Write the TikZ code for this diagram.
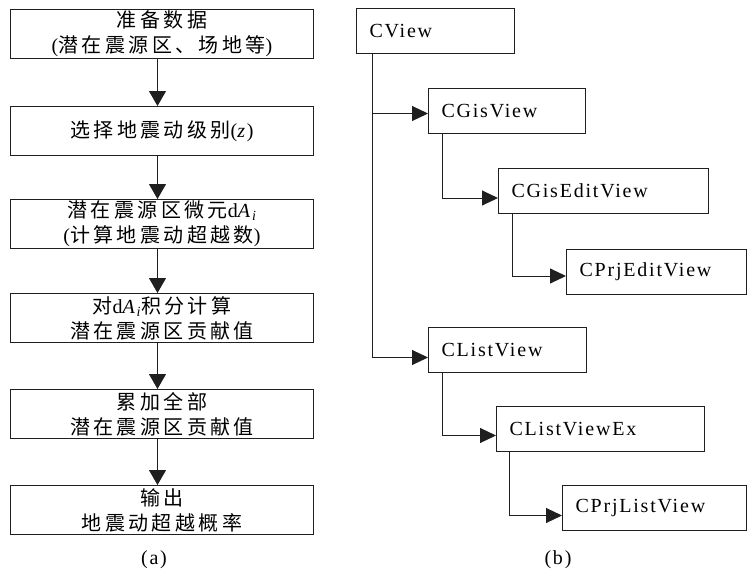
\documentclass[tikz,border=0pt]{standalone}
\usepackage{fontspec}
\setmainfont{Liberation Serif}[LetterSpace=9]
\newfontfamily\cjk{Noto Sans CJK SC}[LetterSpace=17]
\usetikzlibrary{arrows.meta}
\newcommand{\zh}[1]{{\cjk #1}}
\newcommand{\sub}[1]{\textsubscript{\itshape #1}}

\begin{document}
\begin{tikzpicture}[x=1pt,y=-1pt,
  line/.style={draw=black!88, line width=1pt},
  flowbox/.style={line, inner sep=0pt, minimum width=303pt, minimum height=49pt,
    align=center, anchor=north west, font=\fontsize{20}{25}\selectfont},
  classbox/.style={line, inner sep=0pt, inner xsep=13pt, minimum height=45pt,
    align=left, anchor=north west, font=\fontsize{20}{24}\selectfont},
  down/.style={line, -{Triangle[length=15pt,width=17pt]}},
  arr/.style={line, -{Triangle[length=16pt,width=15pt]}},
  caption/.style={font=\fontsize{20}{24}\selectfont}
]
\useasboundingbox (0,0) rectangle (747,578);

% (a) flow chart
\node[flowbox] (b1) at (10,9)   {\zh{准备数据}\\(\zh{潜在震源区、场地等})};
\node[flowbox] (b2) at (10,106) {\zh{选择地震动级别}(\textit{z})};
\node[flowbox] (b3) at (10,199) {\zh{潜在震源区微元}d\textit{A}\sub{i}\\(\zh{计算地震动超越数})};
\node[flowbox] (b4) at (10,293) {\zh{对}d\textit{A}\sub{i}\zh{积分计算}\\\zh{潜在震源区贡献值}};
\node[flowbox] (b5) at (10,389) {\zh{累加全部}\\\zh{潜在震源区贡献值}};
\node[flowbox] (b6) at (10,485) {\zh{输出}\\\zh{地震动超越概率}};

\foreach \a/\b in {b1/b2, b2/b3, b3/b4, b4/b5, b5/b6}
  \draw[down] ([xshift=-4.5pt]\a.south) -- ([xshift=-4.5pt]\b.north);

\node[caption] (capa) at (154,560) {(a)};

% (b) class hierarchy
\node[classbox, text width=132pt] (cview)    at (356,8)   {CView};
\node[classbox, text width=131pt] (gis)      at (428,88)  {CGisView};
\node[classbox, text width=184pt] (gisedit)  at (498,168) {CGisEditView};
\node[classbox, text width=154pt] (prjedit)  at (566,249) {CPrjEditView};
\node[classbox, text width=132pt] (clist)    at (428,327) {CListView};
\node[classbox, text width=182pt] (clistex)  at (496,406) {CListViewEx};
\node[classbox, text width=158pt] (prjlist)  at (562,485) {CPrjListView};

\draw[arr] ([xshift=16pt]cview.south west)   |- ([yshift=-2.5pt]gis.west);
\draw[arr] ([xshift=16pt]cview.south west)   |- ([yshift=-7.5pt]clist.west);
\draw[arr] ([xshift=14pt]gis.south west)     |- ([yshift=-7pt]gisedit.west);
\draw[arr] ([xshift=14pt]gisedit.south west) |- ([yshift=-4pt]prjedit.west);
\draw[arr] ([xshift=14pt]clist.south west)   |- ([yshift=-6.5pt]clistex.west);
\draw[arr] ([xshift=13pt]clistex.south west) |- ([yshift=-7.5pt]prjlist.west);

\node[caption] (capb) at (558,560) {(b)};
\end{tikzpicture}
\end{document}
